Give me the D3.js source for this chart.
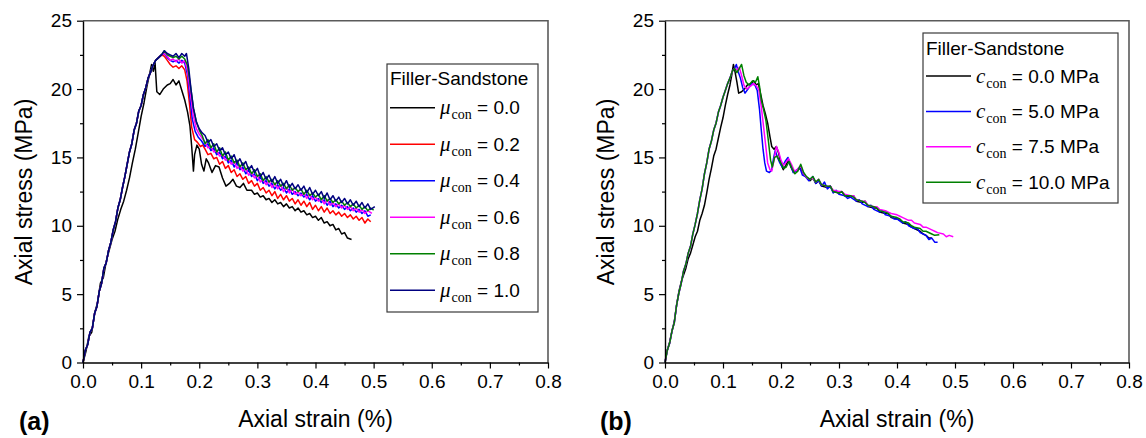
<!DOCTYPE html>
<html>
<head>
<meta charset="utf-8">
<script src="https://cdn.jsdelivr.net/npm/d3@7"></script>
<style>
  body { margin: 0; background: #fff; }
  svg { display: block; font-family: "Liberation Sans", Arial, sans-serif; }
  .tick text { font-size: 19px; fill: #000; }
</style>
</head>
<body>
<svg id="chart" width="1146" height="438"></svg>
<script>
// tick labels
var xTicks = [0, 0.1, 0.2, 0.3, 0.4, 0.5, 0.6, 0.7, 0.8];
var xMinor = [0.05, 0.15, 0.25, 0.35, 0.45, 0.55, 0.65, 0.75];
var yTicks = [0, 5, 10, 15, 20, 25];
var yMinor = [2.5, 7.5, 12.5, 17.5, 22.5];

// panel (a): friction coefficient mu_con
var muLabels = ["0.0", "0.2", "0.4", "0.6", "0.8", "1.0"];
var muColors = ["#000000", "#ff0000", "#0000ff", "#ff00ff", "#008000", "#000080"];

// shared elastic branch of the coloured curves in (a)
var riseA = [[0,0],[0.004,0.9],[0.008,1.3],[0.012,2.2],[0.016,2.5],[0.02,3.6],[0.024,4.1],[0.028,5.2],[0.032,5.8],[0.036,6.9],[0.04,7.3],[0.044,8.2],[0.048,8.8],[0.052,9.7],[0.056,10.3],[0.06,11.3],[0.064,11.9],[0.068,12.8],[0.072,13.6],[0.076,14.5],[0.08,15.4],[0.084,16.0],[0.088,17.0],[0.092,17.5],[0.096,18.4],[0.1,18.8],[0.104,19.6],[0.108,20.1],[0.112,20.8],[0.116,21.2],[0.12,21.7],[0.125,22.1],[0.13,22.3],[0.135,22.5]];

var mu00 = [[0,0],[0.005,0.8],[0.01,1.9],[0.015,2.2],[0.02,3.6],[0.025,4.4],[0.03,5.8],[0.035,6.2],[0.04,7.4],[0.045,8.2],[0.05,9.0],[0.055,9.6],[0.06,10.5],[0.065,11.2],[0.07,11.8],[0.075,12.6],[0.08,13.5],[0.085,14.6],[0.09,15.6],[0.095,16.8],[0.1,18.0],[0.105,19.0],[0.11,20.2],[0.115,21.2],[0.118,21.8],[0.121,21.3],[0.124,21.9],[0.127,19.8],[0.132,19.6],[0.138,20.0],[0.145,20.3],[0.15,20.4],[0.155,20.7],[0.16,20.3],[0.165,20.6],[0.17,19.9],[0.175,19.2],[0.18,18.3],[0.184,17.3],[0.187,15.8],[0.19,14.0],[0.192,15.2],[0.196,15.9],[0.2,15.6],[0.204,14.5],[0.208,14.0],[0.212,14.9],[0.216,14.6],[0.222,13.9],[0.228,14.4],[0.234,14.3],[0.24,13.5],[0.246,12.9],[0.252,13.1],[0.258,13.4],[0.264,12.9],[0.27,12.8],[0.276,13.1],[0.282,12.6],[0.29,12.6],[0.295,12.3],[0.3,12.4],[0.305,12.1],[0.31,12.2],[0.315,11.9],[0.32,12.0],[0.325,11.7],[0.33,11.9],[0.335,11.6],[0.34,11.7],[0.345,11.4],[0.35,11.6],[0.355,11.3],[0.36,11.4],[0.365,11.1],[0.37,11.3],[0.375,11.0],[0.38,11.1],[0.385,10.8],[0.39,10.9],[0.395,10.6],[0.4,10.7],[0.405,10.4],[0.41,10.6],[0.415,10.2],[0.42,10.3],[0.425,10.0],[0.43,10.1],[0.435,9.7],[0.44,9.8],[0.445,9.4],[0.45,9.5],[0.455,9.1],[0.462,9.0]];

var mu02 = riseA.concat([[0.14,22.4],[0.145,22.1],[0.15,21.8],[0.155,21.6],[0.16,21.7],[0.165,21.5],[0.17,21.7],[0.175,21.4],[0.179,20.6],[0.183,19.0],[0.187,17.2],[0.192,16.3],[0.197,16.1],[0.202,15.8],[0.206,15.9],
  [0.21,15.6],[0.215,15.2],[0.22,15.3],[0.225,14.9],[0.23,15.0],[0.235,14.5],[0.24,14.7],[0.245,14.2],[0.25,14.4],[0.255,13.9],[0.26,14.1],[0.265,13.6],[0.27,13.8],[0.275,13.4],[0.28,13.6],[0.285,13.1],[0.29,13.3],[0.295,12.9],[0.3,13.1],[0.305,12.6],[0.31,12.8],[0.315,12.4],[0.32,12.6],[0.325,12.2],[0.33,12.5],[0.335,12.0],[0.34,12.3],[0.345,11.9],[0.35,12.2],[0.355,11.8],[0.36,12.0],[0.365,11.6],[0.37,11.9],[0.375,11.5],[0.38,11.8],[0.385,11.4],[0.39,11.7],[0.395,11.2],[0.4,11.5],[0.405,11.1],[0.41,11.4],[0.415,11.0],[0.42,11.3],[0.425,10.9],[0.43,11.1],[0.435,10.8],[0.44,11.0],[0.445,10.7],[0.45,10.9],[0.455,10.6],[0.46,10.8],[0.465,10.5],[0.47,10.7],[0.475,10.4],[0.48,10.6],[0.485,10.2],[0.49,10.5],[0.495,10.3]]);

var mu04 = riseA.concat([[0.14,22.6],[0.145,22.3],[0.15,22.1],[0.155,22.0],[0.16,22.1],[0.165,21.9],[0.17,22.1],[0.175,21.9],[0.18,21.0],[0.184,19.4],[0.188,17.8],[0.193,16.9],[0.198,16.5],[0.204,16.2],
  [0.21,15.8],[0.215,16.0],[0.22,15.5],[0.225,15.7],[0.23,15.2],[0.235,15.4],[0.24,14.9],[0.245,15.1],[0.25,14.6],[0.255,14.8],[0.26,14.3],[0.265,14.6],[0.27,14.1],[0.275,14.3],[0.28,13.8],[0.285,14.1],[0.29,13.6],[0.295,13.8],[0.3,13.3],[0.305,13.6],[0.31,13.1],[0.315,13.3],[0.32,12.9],[0.325,13.1],[0.33,12.7],[0.335,13.0],[0.34,12.6],[0.345,12.8],[0.35,12.4],[0.355,12.7],[0.36,12.3],[0.365,12.5],[0.37,12.2],[0.375,12.4],[0.38,12.1],[0.385,12.3],[0.39,11.9],[0.395,12.2],[0.4,11.8],[0.405,12.0],[0.41,11.7],[0.415,11.9],[0.42,11.5],[0.425,11.8],[0.43,11.4],[0.435,11.6],[0.44,11.3],[0.445,11.5],[0.45,11.2],[0.455,11.4],[0.46,11.1],[0.465,11.3],[0.47,11.0],[0.475,11.2],[0.48,10.9],[0.485,11.1],[0.49,10.7],[0.495,10.8]]);

var mu06 = riseA.concat([[0.14,22.6],[0.145,22.4],[0.15,22.1],[0.155,22.2],[0.16,22.0],[0.165,22.2],[0.17,21.9],[0.175,22.1],[0.18,21.3],[0.185,19.6],[0.19,18.0],[0.195,17.1],[0.2,16.7],[0.205,16.4],
  [0.21,16.1],[0.215,15.7],[0.22,15.8],[0.225,15.4],[0.23,15.5],[0.235,15.1],[0.24,15.2],[0.245,14.8],[0.25,14.9],[0.255,14.5],[0.26,14.7],[0.265,14.2],[0.27,14.4],[0.275,14.0],[0.28,14.2],[0.285,13.7],[0.29,13.9],[0.295,13.5],[0.3,13.7],[0.305,13.2],[0.31,13.4],[0.315,13.0],[0.32,13.3],[0.325,12.8],[0.33,13.1],[0.335,12.7],[0.34,13.0],[0.345,12.5],[0.35,12.8],[0.355,12.4],[0.36,12.7],[0.365,12.3],[0.37,12.5],[0.375,12.2],[0.38,12.4],[0.385,12.0],[0.39,12.3],[0.395,11.9],[0.4,12.1],[0.405,11.8],[0.41,12.0],[0.415,11.6],[0.42,11.9],[0.425,11.5],[0.43,11.7],[0.435,11.4],[0.44,11.6],[0.445,11.3],[0.45,11.5],[0.455,11.2],[0.46,11.4],[0.465,11.1],[0.47,11.3],[0.475,11.0],[0.48,11.2],[0.485,10.9],[0.49,11.1],[0.497,10.9]]);

var mu08 = riseA.concat([[0.14,22.8],[0.145,22.5],[0.15,22.4],[0.155,22.3],[0.16,22.4],[0.165,22.2],[0.17,22.4],[0.175,22.2],[0.18,21.7],[0.185,20.2],[0.19,18.6],[0.195,17.6],[0.2,17.0],[0.205,16.6],
  [0.21,16.0],[0.215,16.3],[0.22,15.7],[0.225,16.0],[0.23,15.4],[0.235,15.7],[0.24,15.1],[0.245,15.4],[0.25,14.8],[0.255,15.1],[0.26,14.6],[0.265,14.8],[0.27,14.3],[0.275,14.6],[0.28,14.1],[0.285,14.3],[0.29,13.8],[0.295,14.1],[0.3,13.6],[0.305,13.8],[0.31,13.3],[0.315,13.6],[0.32,13.2],[0.325,13.4],[0.33,13.0],[0.335,13.3],[0.34,12.9],[0.345,13.1],[0.35,12.7],[0.355,13.0],[0.36,12.6],[0.365,12.8],[0.37,12.5],[0.375,12.7],[0.38,12.3],[0.385,12.6],[0.39,12.2],[0.395,12.4],[0.4,12.1],[0.405,12.3],[0.41,11.9],[0.415,12.2],[0.42,11.8],[0.425,12.0],[0.43,11.7],[0.435,11.9],[0.44,11.6],[0.445,11.8],[0.45,11.5],[0.455,11.7],[0.46,11.4],[0.465,11.6],[0.47,11.3],[0.475,11.5],[0.48,11.2],[0.485,11.4],[0.49,11.1],[0.495,11.3],[0.5,11.15]]);

var mu10 = riseA.concat([[0.14,22.8],[0.145,22.6],[0.15,22.5],[0.155,22.4],[0.16,22.6],[0.165,22.3],[0.17,22.6],[0.175,22.4],[0.178,22.6],[0.182,21.5],[0.186,19.9],[0.19,18.6],[0.195,17.6],[0.2,17.1],[0.205,16.8],
  [0.21,16.6],[0.215,16.1],[0.22,16.3],[0.225,15.8],[0.23,16.0],[0.235,15.5],[0.24,15.7],[0.245,15.2],[0.25,15.4],[0.255,14.9],[0.26,15.2],[0.265,14.6],[0.27,14.9],[0.275,14.4],[0.28,14.7],[0.285,14.1],[0.29,14.4],[0.295,13.9],[0.3,14.2],[0.305,13.6],[0.31,13.9],[0.315,13.4],[0.32,13.7],[0.325,13.2],[0.33,13.6],[0.335,13.1],[0.34,13.4],[0.345,12.9],[0.35,13.3],[0.355,12.8],[0.36,13.1],[0.365,12.7],[0.37,13.0],[0.375,12.6],[0.38,12.9],[0.385,12.4],[0.39,12.8],[0.395,12.3],[0.4,12.6],[0.405,12.2],[0.41,12.5],[0.415,12.0],[0.42,12.4],[0.425,11.9],[0.43,12.2],[0.435,11.8],[0.44,12.1],[0.445,11.7],[0.45,12.0],[0.455,11.6],[0.46,11.9],[0.465,11.5],[0.47,11.8],[0.475,11.4],[0.48,11.7],[0.485,11.3],[0.49,11.6],[0.495,11.2],[0.502,11.4]]);

// panel (b): cohesion c_con
var cLabels = ["0.0", "5.0", "7.5", "10.0"];
var cColors = ["#000000", "#0000ff", "#ff00ff", "#008000"];

var riseB = [[0,0],[0.004,0.9],[0.008,1.4],[0.012,2.3],[0.016,2.9],[0.02,4.2],[0.024,5.1],[0.028,5.8],[0.032,6.7],[0.036,7.2],[0.04,8.0],[0.044,8.5],[0.048,9.4],[0.052,10.1],[0.056,10.9],[0.06,11.9],[0.064,12.7],[0.068,13.8],[0.072,14.6],[0.076,15.6],[0.08,16.2],[0.084,17.0],[0.088,17.5],[0.092,18.3],[0.096,18.8],[0.1,19.4],[0.104,19.9],[0.108,20.4],[0.112,20.8],[0.116,21.3],[0.12,21.5]];

var c00 = [[0,0],[0.004,0.9],[0.008,1.5],[0.012,2.3],[0.016,3.0],[0.02,4.2],[0.024,5.2],[0.028,5.9],[0.032,6.4],[0.036,6.9],[0.04,7.6],[0.044,8.0],[0.048,8.6],[0.052,9.2],[0.056,9.6],[0.06,10.4],[0.064,10.9],[0.068,11.5],[0.072,12.4],[0.076,13.4],[0.08,14.2],[0.084,15.1],[0.088,15.6],[0.092,16.4],[0.096,17.2],[0.1,17.9],[0.104,18.8],[0.108,19.6],[0.112,20.3],[0.115,21.0],[0.118,21.8],[0.121,21.2],[0.124,20.5],[0.127,19.7],[0.132,19.8],[0.137,20.0],[0.142,20.3],[0.148,20.4],[0.153,20.6],[0.157,20.3],[0.161,20.4],[0.165,19.6],[0.169,18.8],[0.173,18.2],[0.177,17.5],[0.181,16.5],[0.184,15.8],[0.188,15.6],[0.192,15.8],[0.196,15.3],[0.2,14.5],[0.204,14.1],[0.208,14.4],[0.213,14.8],[0.217,14.3],[0.222,13.9],[0.228,14.1],[0.234,14.2],[0.24,13.7],[0.245,13.5],[0.25,13.3],
  [0.255,13.5],[0.26,13.1],[0.265,13.3],[0.27,12.9],[0.28,12.8],[0.285,12.9],[0.29,12.5],[0.3,12.4],[0.305,12.5],[0.31,12.2],[0.32,12.1],[0.325,12.2],[0.33,11.8],[0.34,11.7],[0.345,11.8],[0.35,11.4],[0.36,11.3],[0.365,11.3],[0.37,11.0],[0.38,10.9],[0.385,10.9],[0.39,10.6],[0.4,10.5],[0.405,10.4],[0.41,10.2],[0.42,10.1],[0.425,9.9],[0.43,9.8],[0.44,9.6],[0.445,9.4],[0.45,9.3],[0.455,9.1],[0.46,9.1]];

var c50 = riseB.concat([[0.123,21.8],[0.126,21.3],[0.13,20.8],[0.134,20.1],[0.138,19.7],[0.143,20.0],[0.149,20.4],[0.155,20.3],[0.159,19.9],[0.163,18.5],[0.166,17.0],[0.169,15.6],[0.172,14.6],[0.175,14.0],[0.18,13.9],[0.184,14.1],[0.187,14.9],[0.19,15.5],[0.194,15.0],[0.198,14.6],[0.202,14.3],[0.207,14.7],[0.212,15.0],[0.216,14.5],[0.221,13.9],[0.226,14.0],[0.232,14.3],[0.237,13.7],[0.242,13.6],[0.248,13.3],
  [0.255,13.6],[0.26,13.1],[0.265,13.3],[0.27,12.9],[0.275,13.2],[0.28,12.7],[0.285,12.9],[0.29,12.4],[0.295,12.6],[0.3,12.3],[0.31,12.2],[0.315,12.0],[0.32,12.1],[0.33,11.8],[0.335,11.9],[0.34,11.6],[0.35,11.4],[0.355,11.5],[0.36,11.2],[0.37,11.0],[0.375,11.1],[0.38,10.8],[0.39,10.7],[0.395,10.5],[0.4,10.5],[0.41,10.2],[0.415,10.3],[0.42,10.0],[0.43,9.8],[0.435,9.8],[0.44,9.5],[0.45,9.3],[0.455,9.0],[0.46,9.1],[0.465,8.8],[0.47,8.8]]);

var c75 = riseB.concat([[0.124,21.4],[0.128,21.6],[0.132,21.0],[0.136,20.3],[0.141,20.0],[0.147,20.2],[0.153,20.4],[0.158,20.2],[0.162,19.9],[0.166,18.7],[0.169,17.6],[0.173,16.1],[0.177,14.6],[0.181,14.1],[0.184,14.0],[0.188,14.8],[0.192,15.8],[0.196,15.4],[0.2,14.8],[0.204,14.4],[0.208,14.6],[0.213,14.9],[0.218,14.5],[0.223,14.0],[0.228,14.1],[0.234,14.4],[0.239,13.8],[0.245,13.5],[0.25,13.4],
  [0.255,13.5],[0.26,13.2],[0.265,13.4],[0.27,13.0],[0.28,12.9],[0.285,12.9],[0.29,12.6],[0.3,12.5],[0.305,12.5],[0.31,12.3],[0.32,12.2],[0.325,12.2],[0.33,11.9],[0.34,11.8],[0.345,11.8],[0.35,11.5],[0.36,11.4],[0.365,11.4],[0.37,11.2],[0.38,11.1],[0.385,11.0],[0.39,10.9],[0.4,10.8],[0.405,10.7],[0.41,10.6],[0.42,10.4],[0.425,10.4],[0.43,10.2],[0.44,10.1],[0.445,9.9],[0.45,9.9],[0.46,9.7],[0.465,9.6],[0.47,9.5],[0.48,9.4],[0.485,9.2],[0.49,9.3],[0.497,9.2]]);

var c100 = riseB.concat([[0.124,21.2],[0.128,21.5],[0.132,21.8],[0.136,21.0],[0.14,20.5],[0.145,20.3],[0.151,20.6],[0.156,20.5],[0.16,20.9],[0.163,20.2],[0.166,19.2],[0.17,18.5],[0.174,17.7],[0.178,16.3],[0.182,14.8],[0.185,14.3],[0.189,15.0],[0.193,15.1],[0.197,14.8],[0.201,14.5],[0.205,14.2],[0.209,14.3],[0.214,14.7],[0.219,14.2],[0.224,13.8],[0.229,14.0],[0.234,14.5],[0.239,13.9],[0.244,13.6],[0.25,13.4],
  [0.255,13.6],[0.26,13.2],[0.265,13.4],[0.27,13.0],[0.28,12.9],[0.285,12.9],[0.29,12.5],[0.3,12.4],[0.305,12.5],[0.31,12.2],[0.32,12.2],[0.325,12.1],[0.33,11.9],[0.34,11.8],[0.345,11.7],[0.35,11.5],[0.36,11.4],[0.365,11.3],[0.37,11.1],[0.38,11.0],[0.385,10.9],[0.39,10.7],[0.4,10.6],[0.405,10.5],[0.41,10.3],[0.42,10.2],[0.425,10.0],[0.43,9.9],[0.44,9.8],[0.445,9.6],[0.45,9.6],[0.46,9.4],[0.465,9.3],[0.473,9.35]]);

var svg = d3.select("#chart");

function drawPanel(p) {
  var x = d3.scaleLinear().domain([0, 0.8]).range([p.left, p.right]);
  var y = d3.scaleLinear().domain([0, 25]).range([362.5, 20.7]);
  var g = svg.append("g");

  // grey top/right frame
  g.append("path")
    .attr("d", "M" + x(0) + "," + y(25) + "H" + x(0.8) + "V" + y(0))
    .attr("fill", "none").attr("stroke", "#5a5a5a").attr("stroke-width", 1.6);

  // curves
  var line = d3.line().x(function(d){ return x(d[0]); }).y(function(d){ return y(d[1]); });
  p.series.forEach(function(s, i){
    g.append("path")
      .datum(s)
      .attr("d", line)
      .attr("fill", "none")
      .attr("stroke", p.colors[i])
      .attr("stroke-width", 1.5)
      .attr("stroke-linejoin", "round");
  });

  // axes
  var xAxis = g.append("g").attr("transform", "translate(0," + y(0) + ")")
    .call(d3.axisBottom(x).tickValues(xTicks).tickSize(6).tickSizeOuter(0).tickPadding(5).tickFormat(d3.format(".1f")));
  g.append("g").attr("transform", "translate(0," + y(0) + ")")
    .call(d3.axisBottom(x).tickValues(xMinor).tickSize(3).tickFormat("")).select(".domain").remove();
  var yAxis = g.append("g").attr("transform", "translate(" + x(0) + ",0)")
    .call(d3.axisLeft(y).tickValues(yTicks).tickSize(6).tickSizeOuter(0).tickPadding(5));
  g.append("g").attr("transform", "translate(" + x(0) + ",0)")
    .call(d3.axisLeft(y).tickValues(yMinor).tickSize(3).tickFormat("")).select(".domain").remove();
  g.selectAll(".domain").attr("stroke", "#000").attr("stroke-width", 1.4);
  g.selectAll(".tick line").attr("stroke", "#000").attr("stroke-width", 1.2);
  g.selectAll(".tick text").style("font-size", "19px").attr("font-family", "Liberation Sans, Arial, sans-serif");
  xAxis.selectAll(".tick text").attr("dy", "0.75em");

  // axis titles
  g.append("text")
    .attr("x", (p.left + p.right) / 2).attr("y", 427)
    .attr("text-anchor", "middle").style("font-size", "23px")
    .text("Axial strain (%)");
  g.append("text")
    .attr("transform", "translate(" + (p.left - 51) + "," + 192 + ") rotate(-90)")
    .attr("text-anchor", "middle").style("font-size", "23px")
    .text("Axial stress (MPa)");
  g.append("text")
    .attr("x", p.tagX).attr("y", 430)
    .style("font-size", "25px").style("font-weight", "bold")
    .text(p.tag);

  // legend
  var L = p.legend;
  g.append("rect")
    .attr("x", L.x).attr("y", L.y).attr("width", L.w).attr("height", L.h)
    .attr("fill", "#fff").attr("stroke", "#3a3a3a").attr("stroke-width", 1.2);
  g.append("text")
    .attr("x", L.x + 3).attr("y", L.titleY)
    .style("font-size", "19px")
    .text("Filler-Sandstone");
  p.labels.forEach(function(lab, i){
    var cy = L.firstY + i * L.step;
    g.append("line")
      .attr("x1", L.x + 3).attr("x2", L.x + 48)
      .attr("y1", cy).attr("y2", cy)
      .attr("stroke", p.colors[i]).attr("stroke-width", 1.5);
    var t = g.append("text").attr("x", L.x + 53).attr("y", cy + 6.5).style("font-size", "19px");
    t.append("tspan").attr("font-family", "Liberation Serif, DejaVu Serif, serif")
      .style("font-style", "italic").style("font-size", p.symSize + "px").text(p.sym);
    t.append("tspan").attr("font-family", "Liberation Serif, DejaVu Serif, serif")
      .style("font-size", "14px").attr("dy", 5).attr("dx", 1).text("con");
    t.append("tspan").attr("dy", -5).text(" = " + lab + p.unit);
  });
}

drawPanel({
  left: 83, right: 548, tag: "(a)", tagX: 19,
  series: [mu00, mu02, mu04, mu06, mu08, mu10],
  colors: muColors, labels: muLabels, sym: "\u03bc", symSize: 21, unit: "",
  legend: { x: 387, y: 64, w: 151, h: 248, titleY: 85, firstY: 107.7, step: 36.5 }
});

drawPanel({
  left: 665, right: 1129, tag: "(b)", tagX: 600,
  series: [c00, c50, c75, c100],
  colors: cColors, labels: cLabels, sym: "c", symSize: 21, unit: " MPa",
  legend: { x: 923, y: 33, w: 195, h: 170, titleY: 55, firstY: 76, step: 35.4 }
});
</script>
</body>
</html>
